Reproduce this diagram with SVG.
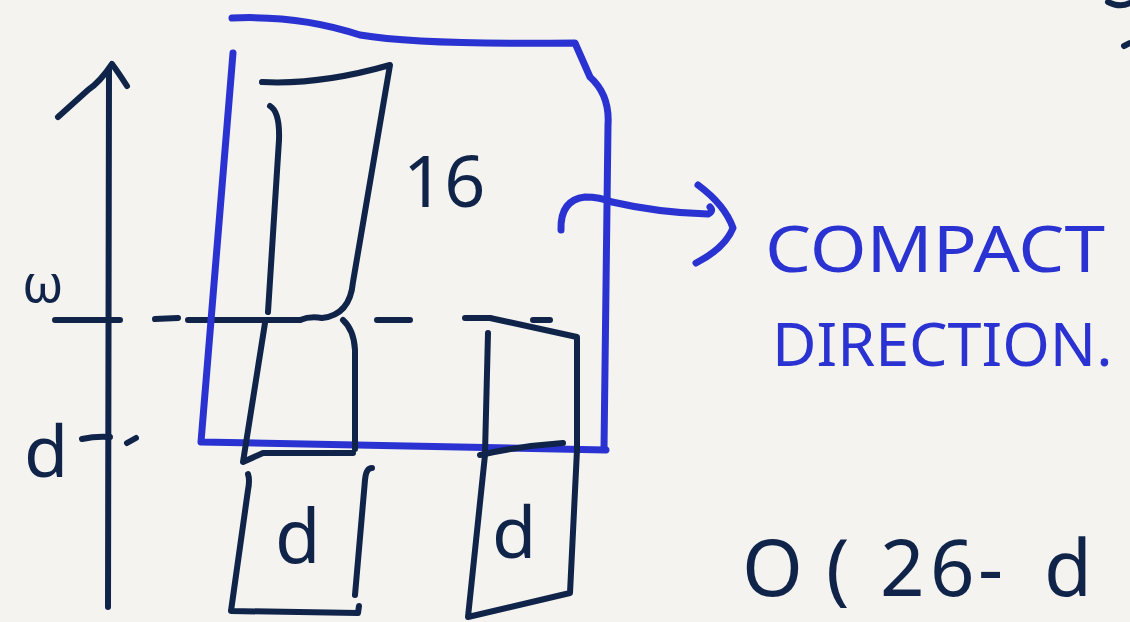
<svg xmlns="http://www.w3.org/2000/svg" width="1130" height="622" viewBox="0 0 1130 622">
<style>
.ink{fill:none;stroke:#10244a;stroke-width:6;stroke-linecap:round;stroke-linejoin:round}
.blue{fill:none;stroke:#2a33d2;stroke-width:7;stroke-linecap:round;stroke-linejoin:round}
.tn{fill:#10244a;font-family:"Noto Sans","DejaVu Sans",sans-serif}
.tb{fill:#2a33d2;font-family:"Noto Sans","DejaVu Sans",sans-serif}
</style>
<rect width="1130" height="622" fill="#f4f3ef"/>
<g id="connectors">
  <path class="ink" d="M108 607 L109 70"/>
  <path class="ink" d="M58 117 L88 90 Q100 82 112 64 Q118 72 127 86"/>
  <path class="ink" d="M55 320 L120 320 M155 319 L178 318 M188 320 L300 320 M377 320 L410 320 M465 318 L490 318 M533 320 L550 320"/>
  <path class="ink" d="M82 439 Q96 436 110 437 M127 443 L136 438"/>
  <path class="blue" d="M561 230 Q560 200 585 197 Q600 197 612 202 Q660 213 708 214 Q714 211 710 207"/>
  <path class="blue" d="M698 185 Q725 205 733 228 Q725 248 696 263"/>
</g>
<g id="compact-region">
  <path class="blue" d="M232 18 Q300 15 360 35 Q420 45 575 43 L590 77 Q610 95 608 125 L604 449"/>
  <path class="blue" d="M233 53 L201 442 L606 450"/>
</g>
<g id="block-16">
  <path class="ink" d="M262 82 Q320 85 390 65 L353 282 Q350 315 322 318 Q310 316 300 320"/>
  <path class="ink" d="M270 106 Q280 112 279 140 L268 312"/>
  <text class="tn" x="403" y="207" font-size="72">16</text>
</g>
<g id="block-w">
  <path class="ink" d="M265 323 L243 462 L263 453 L353 453"/>
  <path class="ink" d="M343 320 Q354 330 355 350 L355 449"/>
</g>
<g id="block-d-left">
  <path class="ink" d="M248 474 Q250 480 248 490 L231 611 L358 613 L359 606"/>
  <path class="ink" d="M372 468 Q366 468 365 480 L355 595"/>
  <text class="tn" x="275" y="563" font-size="74">d</text>
</g>
<g id="block-d-right">
  <path class="ink" d="M490 318 L577 337 L577 450 L570 593 L468 617 L485 455"/>
  <path class="ink" d="M488 333 L485 453"/>
  <path class="ink" d="M480 455 Q520 446 563 443"/>
  <text class="tn" x="492" y="558" font-size="72">d</text>
</g>
<g id="labels">
  <text class="tn" x="22" y="302" font-size="52">ω</text>
  <text class="tn" x="24" y="477" font-size="72">d</text>
  <text class="tb" x="765" y="272" font-size="64" textLength="340" lengthAdjust="spacingAndGlyphs">COMPACT</text>
  <text class="tb" x="772" y="366" font-size="61">DIRECTION.</text>
  <text class="tn" font-size="78" x="742 826 880 930 978 1044" y="596">O(26-d</text>
</g>
<g id="edge-marks">
  <path class="ink" d="M1108 2 Q1120 8 1130 3" stroke-width="8"/>
  <path class="ink" d="M1124 46 L1130 43"/>
</g>
</svg>
